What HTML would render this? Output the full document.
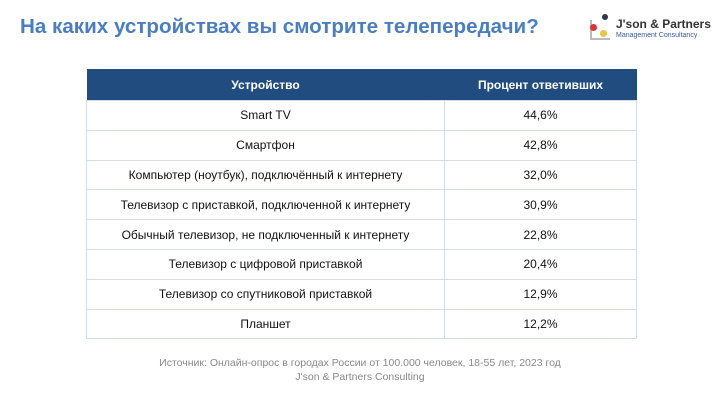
<!DOCTYPE html>
<html><head><meta charset="utf-8"><style>
body{margin:0;width:720px;height:405px;background:#fff;font-family:"Liberation Sans","Noto Sans CJK SC",sans-serif;position:relative;overflow:hidden}
.title{position:absolute;left:20px;top:15px;font-size:20.6px;font-weight:bold;color:#4a7ec4;white-space:nowrap}
table{position:absolute;left:86px;top:69px;width:551px;border-collapse:collapse;font-size:12px;color:#111}
th{background:#214c7f;color:#fff;font-weight:bold;height:29px;font-size:12px}
td{height:28.8px;text-align:center;border:1px solid #d4dce6;padding:0}
th,td{text-align:center}
.src{position:absolute;left:0;width:720px;top:356px;text-align:center;font-size:10.5px;color:#888;line-height:14px}
</style></head><body>
<div class="title">На каких устройствах вы смотрите телепередачи?</div>
<div style="position:absolute;left:586px;top:12px;width:130px;height:30px">
<div style="position:absolute;left:4px;top:8px;width:18px;height:18px;border:2px solid #bbb;border-right:none;border-top:none"></div>
<div style="position:absolute;left:16px;top:2px;width:6px;height:6px;border-radius:50%;background:#335;"></div>
<div style="position:absolute;left:4px;top:12px;width:7px;height:7px;border-radius:50%;background:#d33"></div>
<div style="position:absolute;left:14px;top:18px;width:7px;height:7px;border-radius:50%;background:#e8c440"></div>
<div style="position:absolute;left:30px;top:5px;font-size:12px;font-weight:bold;color:#333;white-space:nowrap">J'son &amp; Partners</div>
<div style="position:absolute;left:30px;top:20px;font-size:7px;color:#3a5a9a;white-space:nowrap">Management Consultancy</div>
</div>
<table>
<tr><th style="width:356px">Устройство</th><th>Процент ответивших</th></tr>
<tr><td>Smart TV</td><td>44,6%</td></tr>
<tr><td>Смартфон</td><td>42,8%</td></tr>
<tr><td>Компьютер (ноутбук), подключённый к интернету</td><td>32,0%</td></tr>
<tr><td>Телевизор с приставкой, подключенной к интернету</td><td>30,9%</td></tr>
<tr><td>Обычный телевизор, не подключенный к интернету</td><td>22,8%</td></tr>
<tr><td>Телевизор с цифровой приставкой</td><td>20,4%</td></tr>
<tr><td>Телевизор со спутниковой приставкой</td><td>12,9%</td></tr>
<tr><td>Планшет</td><td>12,2%</td></tr>
</table>
<div class="src">Источник: Онлайн-опрос в городах России от 100.000 человек, 18-55 лет, 2023 год<br>J'son &amp; Partners Consulting</div>
</body></html>
